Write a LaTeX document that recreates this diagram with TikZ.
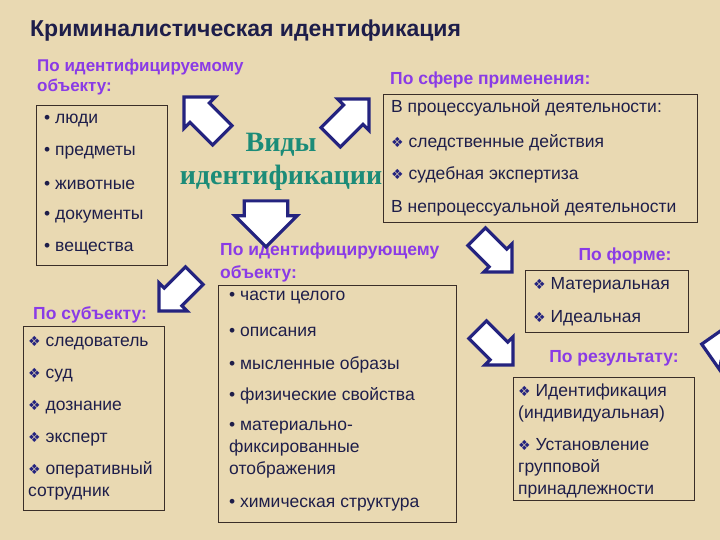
\documentclass[tikz,border=0pt]{standalone}
\usepackage{fontspec}
\setmainfont{Liberation Sans}
\newfontfamily\dv{DejaVu Sans}
\newfontfamily\lserif{Liberation Serif}
\usetikzlibrary{shapes.arrows}
\definecolor{bg}{HTML}{E9D9B2}
\definecolor{purp}{HTML}{8A3BE6}
\definecolor{ink}{HTML}{1E1E4A}
\definecolor{navy}{HTML}{24237F}
\definecolor{teal}{HTML}{1C8C78}
\definecolor{frame}{HTML}{3A2E28}
\newcommand{\dm}{{\dv\color{navy}\fontsize{14}{14}\selectfont ❖}\ }
\tikzset{
 x=1pt,y=-1pt,
 txt/.style={anchor=west,inner sep=0pt,text=ink,font=\fontsize{17.5}{22}\selectfont},
 mtxt/.style={txt,align=left},
 head/.style={anchor=west,inner sep=0pt,text=purp,font=\bfseries\fontsize{17.5}{23}\selectfont,align=left},
 frm/.style={draw=frame,line width=0.8pt},
 bigarrow/.style={single arrow,draw=navy,line width=3.2pt,fill=white,minimum height=54pt,minimum width=44pt,inner xsep=0pt,inner ysep=10pt}
}
\begin{document}
\begin{tikzpicture}
\fill[bg] (0,0) rectangle (720,540);
\useasboundingbox (0,0) rectangle (720,540);
\node[anchor=west,inner sep=0pt,text=ink,font=\bfseries\fontsize{23}{26}\selectfont] (title) at (30,31) {Криминалистическая идентификация};
% left column
\node[head,font=\bfseries\fontsize{17}{20}\selectfont] (h1) at (37,77) {По идентифицируемому\\объекту:};
\draw[frm] (36,105) rectangle (167,265);
\node[txt] (l1) at (44,121) {• люди};
\node[txt] (l2) at (44,153) {• предметы};
\node[txt] (l3) at (44,185) {• животные};
\node[txt] (l4) at (44,217) {• документы};
\node[txt] (l5) at (44,249) {• вещества};
\node[head] (h2) at (33,315) {По субъекту:};
\draw[frm] (23,326) rectangle (164,510);
\node[txt] (s1) at (28,343) {\dm следователь};
\node[txt] (s2) at (28,375) {\dm суд};
\node[txt] (s3) at (28,407) {\dm дознание};
\node[txt] (s4) at (28,439) {\dm эксперт};
\node[mtxt] (s5) at (28,481) {\dm оперативный\\сотрудник};
% center
\node[inner sep=0pt,text=teal,align=center,font=\lserif\bfseries\fontsize{28}{33}\selectfont] (vid) at (281,162) {Виды\\идентификации};
\node[head] (h3) at (390,80) {По сфере применения:};
\draw[frm] (383,94) rectangle (697,222);
\node[txt] (p1) at (391,108) {В процессуальной деятельности:};
\node[txt] (p2) at (391,143) {\dm следственные действия};
\node[txt] (p3) at (391,175) {\dm судебная экспертиза};
\node[txt] (p4) at (391,208) {В непроцессуальной деятельности};
\node[head] (h4) at (220,262) {По идентифицирующему\\объекту:};
\draw[frm] (218,285) rectangle (456,522);
\node[txt] (c1) at (229,298) {• части целого};
\node[txt] (c2) at (229,332) {• описания};
\node[txt] (c3) at (229,365) {• мысленные образы};
\node[txt] (c4) at (229,396) {• физические свойства};
\node[mtxt] (c5) at (229,450) {• материально-\\фиксированные\\отображения};
\node[txt] (c6) at (229,505) {• химическая структура};
% right
\node[head,anchor=center] (h5) at (625,256) {По форме:};
\draw[frm] (525,270) rectangle (688,332);
\node[txt] (f1) at (533,285) {\dm Материальная};
\node[txt] (f2) at (533,318) {\dm Идеальная};
\node[head,anchor=center] (h6) at (614,358) {По результату:};
\draw[frm] (513,377) rectangle (694,500);
\node[mtxt] (r1) at (518,403) {\dm Идентификация\\(индивидуальная)};
\node[mtxt] (r2) at (518,468) {\dm Установление\\групповой\\принадлежности};
% arrows
\node[bigarrow,rotate=135] (a1) at (208,121) {};
\node[bigarrow,rotate=45] (a2) at (345,123) {};
\node[bigarrow,rotate=-90,minimum height=46pt,minimum width=62pt,inner ysep=15pt] (a3) at (266,213) {};
\node[bigarrow,rotate=225,minimum height=50pt,minimum width=40pt] (a4) at (181,289) {};
\node[bigarrow,rotate=-45,minimum height=50pt,minimum width=40pt] (a5) at (490,250) {};
\node[bigarrow,rotate=-45,minimum height=50pt,minimum width=40pt] (a6) at (491,343) {};
\begin{scope}
\clip (0,0) rectangle (720,540);
\node[bigarrow,rotate=170] (a7) at (735,350) {};
\end{scope}
\end{tikzpicture}
\end{document}
